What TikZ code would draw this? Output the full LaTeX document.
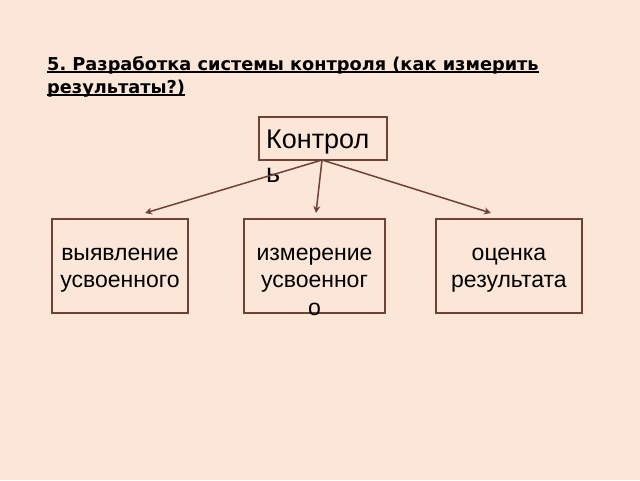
\documentclass[tikz,border=0pt]{standalone}
\usepackage{fontspec}
\setmainfont{Liberation Sans}
\newfontfamily\titlefont{DejaVu Sans}
\definecolor{bgpeach}{HTML}{FBE6D7}
\definecolor{edgebrown}{HTML}{6E4236}
\usetikzlibrary{arrows.meta}
\newcommand\thickul[1]{\setbox0=\hbox{#1}\leavevmode\rlap{\raisebox{-2.6pt}{\rule{\wd0}{1.6pt}}}\box0}
\frenchspacing
\begin{document}
\begin{tikzpicture}[x=1pt,y=-1pt,
  boxshape/.style={draw=edgebrown,line width=1.5pt,inner sep=0pt},
  boxtext/.style={inner sep=0pt,align=center,font=\fontsize{23}{27.5}\selectfont,text=black},
  conn/.style={draw=edgebrown,line width=1.5pt,-{Stealth[length=7pt,width=7pt]}}]
\fill[bgpeach] (0,0) rectangle (640,480);
\useasboundingbox (0,0) rectangle (640,480);
% title
\node[anchor=base west,inner sep=0pt,align=left,font=\titlefont\bfseries\fontsize{17.75}{23}\selectfont] (title) at (47,93)
  {\thickul{5. Разработка системы контроля (как измерить}\\\thickul{результаты?)}};
% control box
\node[boxshape,minimum width=128pt,minimum height=43pt] (ctrl) at (323,138.5) {};
\node[anchor=base west,inner sep=0pt,align=left,font=\fontsize{27}{34}\selectfont] (ctrltxt) at (266,182) {Контрол\\ь};
% bottom boxes
\node[boxshape,minimum width=136pt,minimum height=94pt] (b1) at (120,266) {};
\node[boxshape,minimum width=141pt,minimum height=94pt] (b2) at (314.5,266) {};
\node[boxshape,minimum width=146pt,minimum height=94pt] (b3) at (509,266) {};
\node[boxtext,anchor=base] (t1) at (120,287.5) {выявление\\усвоенного};
\node[boxtext,anchor=base] (t2) at (314.5,315) {измерение\\усвоенног\\о};
\node[boxtext,anchor=base] (t3) at (509,287.5) {оценка\\результата};
% connectors
\coordinate (src) at (322,160);
\coordinate (e1) at (145,213);
\coordinate (e2) at (316,213);
\coordinate (e3) at (491,213);
\draw[conn] (src) -- (e1);
\draw[conn] (src) -- (e2);
\draw[conn] (src) -- (e3);
\end{tikzpicture}
\end{document}
